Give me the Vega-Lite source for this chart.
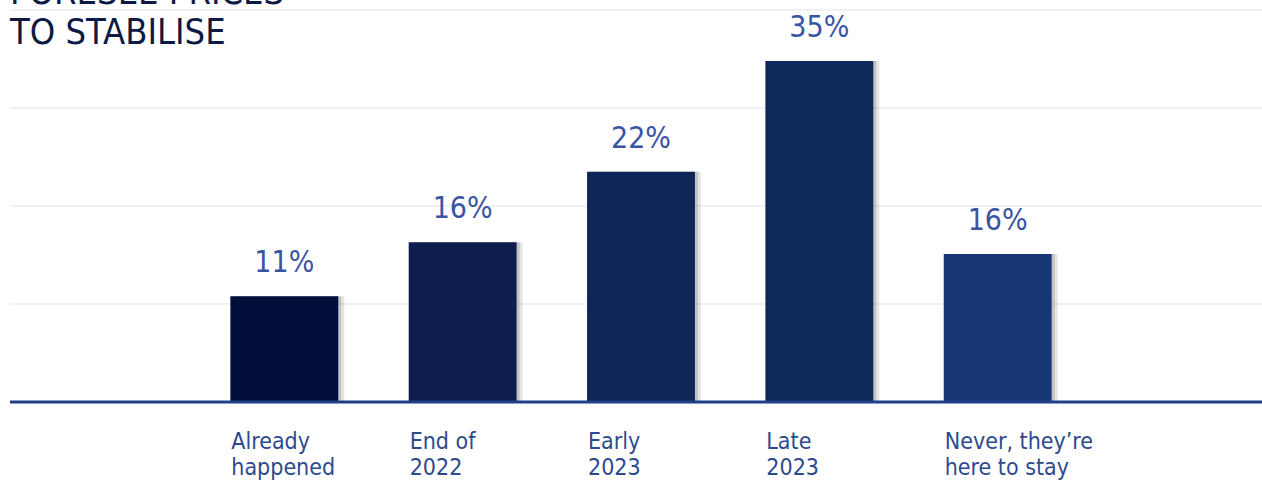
{
  "$schema": "https://vega.github.io/schema/vega-lite/v6.json",
  "autosize": {"type": "none"},
  "padding": {"left": 10, "top": 10, "right": 0, "bottom": 78},
  "width": 1252,
  "height": 392,
  "background": "white",
  "title": {
    "text": ["FORESEE PRICES", "TO STABILISE"],
    "anchor": "start",
    "frame": "group",
    "orient": "top",
    "baseline": "bottom",
    "offset": -79,
    "lineHeight": 40,
    "font": "Liberation Sans Narrow, DejaVu Sans Condensed, Roboto",
    "fontSize": 36,
    "fontWeight": "normal",
    "color": "#0b1a44"
  },
  "layer": [
    {
      "data": {"values": [{"g": 10}, {"g": 20}, {"g": 30}, {"g": 40}]},
      "mark": {"type": "rule", "color": "#f1f1f1", "strokeWidth": 2},
      "encoding": {
        "y": {"field": "g", "type": "quantitative", "scale": {"domain": [0, 40], "nice": false}, "axis": null}
      }
    },
    {
      "data": {
        "values": [
          {"cat": "Already\nhappened", "h": 10.8, "label": "11%"},
          {"cat": "End of\n2022", "h": 16.3, "label": "16%"},
          {"cat": "Early\n2023", "h": 23.5, "label": "22%"},
          {"cat": "Late\n2023", "h": 34.8, "label": "35%"},
          {"cat": "Never, they’re\nhere to stay", "h": 15.1, "label": "16%"}
        ]
      },
      "encoding": {
        "x": {
          "field": "cat",
          "type": "nominal",
          "sort": null,
          "scale": {"type": "band", "range": [42, 1220], "paddingInner": 0.395, "paddingOuter": 1},
          "axis": {
            "title": null,
            "domain": false,
            "ticks": false,
            "grid": false,
            "labelAlign": "left",
            "labelBaseline": "top",
            "labelPadding": 28,
            "labelAngle": 0,
            "labelExpr": "split(datum.label, '\\n')",
            "labelLineHeight": 26,
            "labelFont": "Liberation Sans Narrow, DejaVu Sans Condensed, Roboto",
            "labelFontSize": 23,
            "labelColor": "#2e4a8e",
            "labelOffset": -53,
            "labelOverlap": false,
            "labelBound": false
          }
        },
        "y": {
          "field": "h",
          "type": "quantitative",
          "axis": null
        }
      },
      "layer": [
        {"mark": {"type": "bar", "color": "#000000", "opacity": 0.1, "xOffset": 6}},
        {"mark": {"type": "bar", "color": "#000000", "opacity": 0.15, "xOffset": 3}},
        {
          "mark": {"type": "bar"},
          "encoding": {
            "color": {
              "field": "cat",
              "type": "nominal",
              "sort": null,
              "legend": null,
              "scale": {"range": ["#010f3a", "#0e1d4e", "#0f2557", "#0e285c", "#193674"]}
            }
          }
        },
        {
          "mark": {
            "type": "text",
            "dy": -33,
            "baseline": "middle",
            "align": "center",
            "font": "Liberation Sans Narrow, DejaVu Sans Condensed, Roboto",
            "fontSize": 30,
            "color": "#3a54a4"
          },
          "encoding": {"text": {"field": "label"}}
        }
      ]
    },
    {
      "data": {"values": [{"b": 0}]},
      "mark": {"type": "rule", "color": "#1f3f88", "strokeWidth": 3},
      "encoding": {"y": {"field": "b", "type": "quantitative"}}
    }
  ],
  "config": {"view": {"stroke": null}}
}
